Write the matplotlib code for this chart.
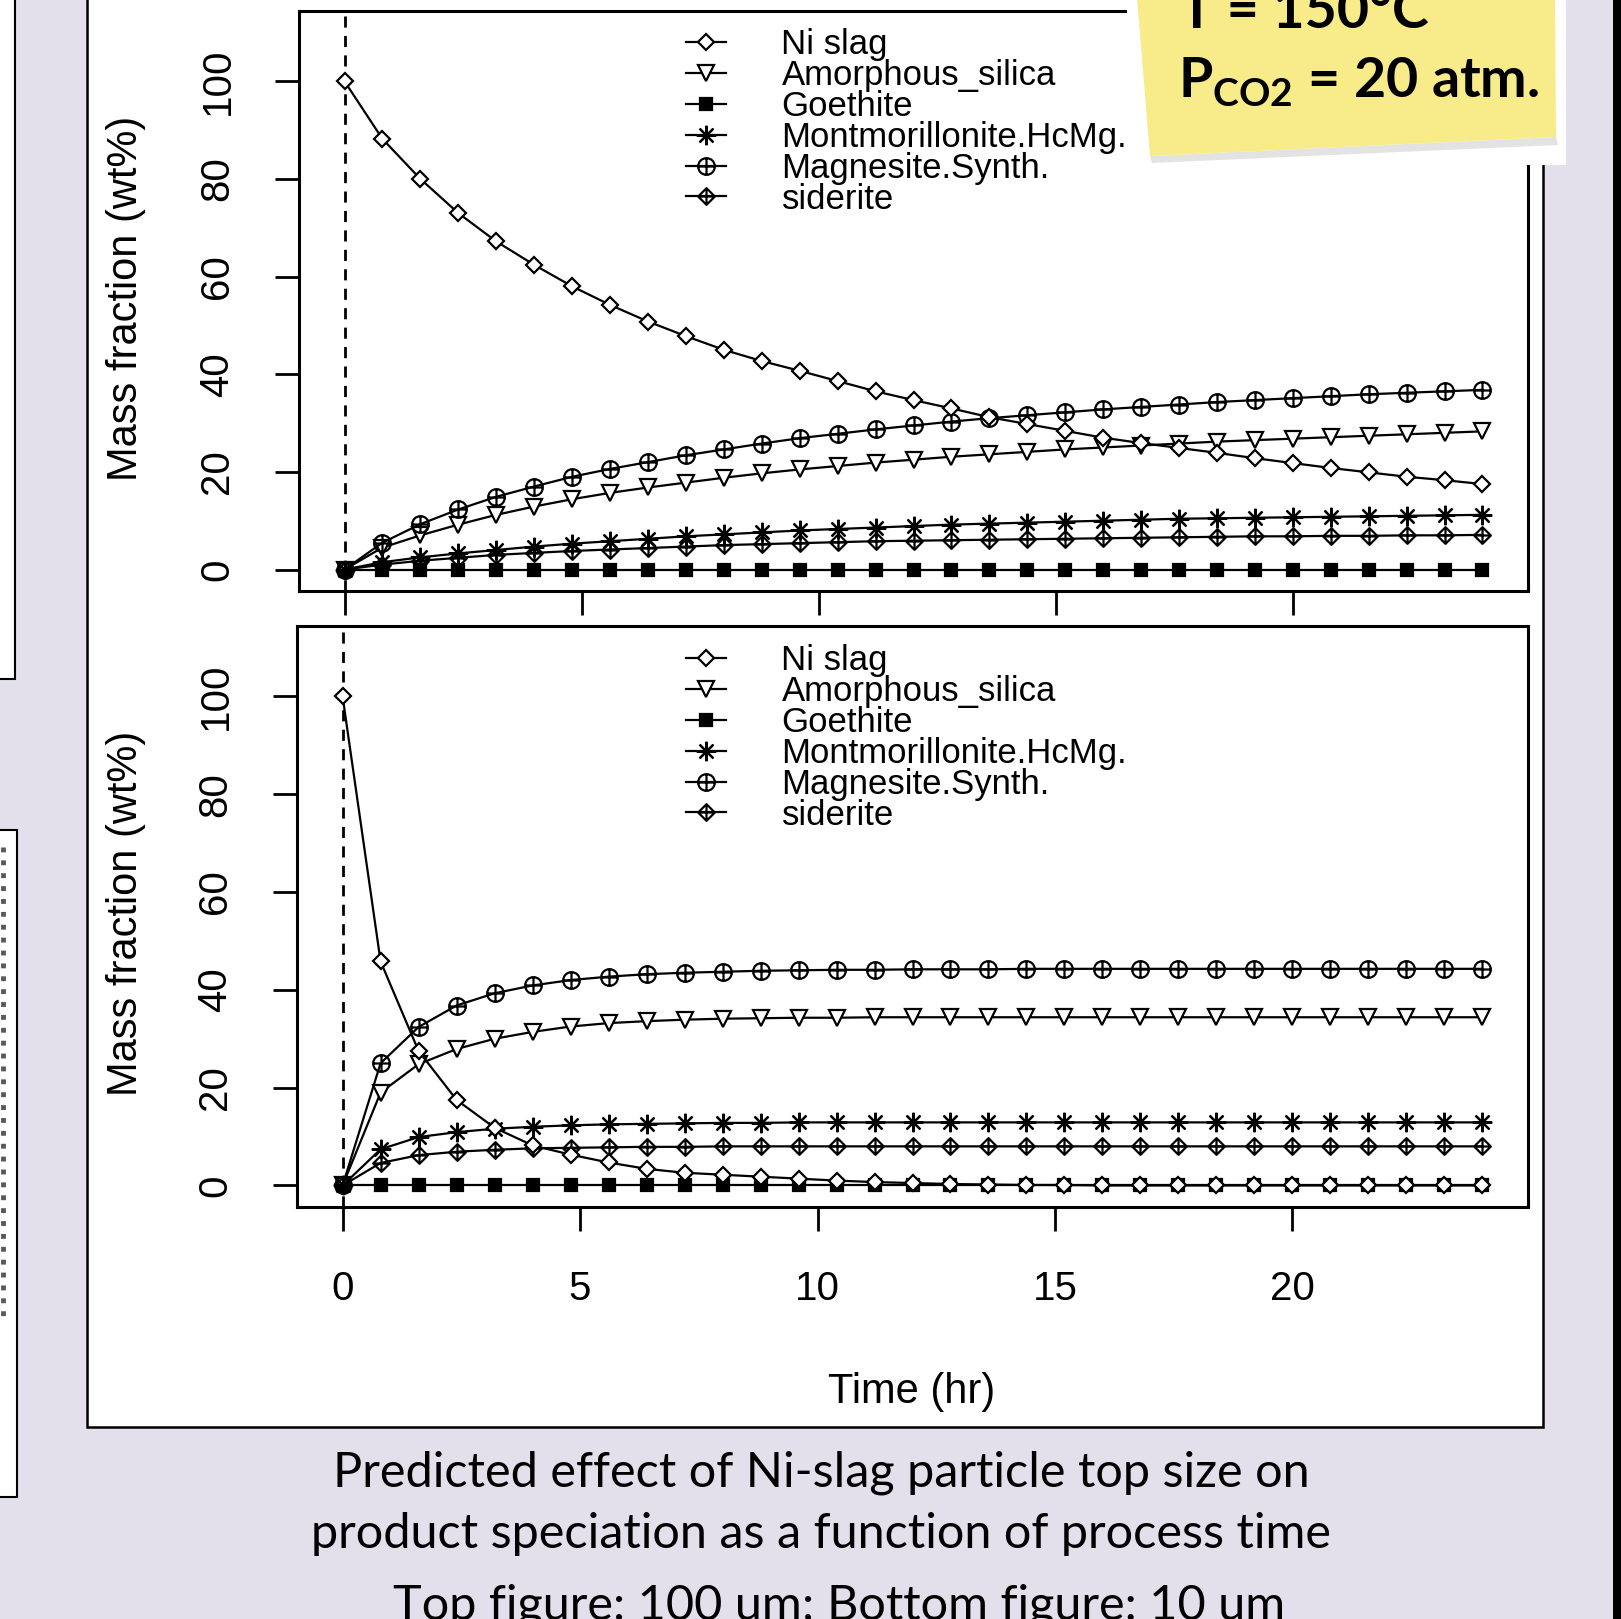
import matplotlib
matplotlib.use("Agg")
import matplotlib.pyplot as plt
from matplotlib.path import Path
from matplotlib.patches import Rectangle, Polygon
from matplotlib.lines import Line2D
from matplotlib import font_manager

# time axis (hr)
time_hr = [0.0, 0.8, 1.6, 2.4, 3.2, 4.0, 4.8, 5.6, 6.4, 7.2, 8.0, 8.8, 9.6, 10.4, 11.2, 12.0,
           12.8, 13.6, 14.4, 15.2, 16.0, 16.8, 17.6, 18.4, 19.2, 20.0, 20.8, 21.6, 22.4, 23.2, 24.0]

# top figure: 100 um
ni_top = [100, 88.2, 80.0, 73.0, 67.2, 62.4, 58.0, 54.2, 50.8, 47.8, 45.0, 42.7, 40.7, 38.6, 36.5, 34.7,
          33.0, 31.2, 29.8, 28.4, 27.0, 25.9, 24.9, 23.9, 22.8, 21.8, 20.8, 19.9, 19.0, 18.3, 17.5]
sil_top = [0, 4.5, 7.0, 9.2, 11.2, 12.9, 14.4, 15.7, 16.8, 17.8, 18.8, 19.7, 20.5, 21.2, 21.9, 22.5,
           23.1, 23.6, 24.1, 24.6, 25.0, 25.4, 25.8, 26.2, 26.5, 26.8, 27.1, 27.4, 27.7, 28.0, 28.3]
goe_top = [0, 0, 0, 0, 0, 0, 0, 0, 0, 0, 0, 0, 0, 0, 0, 0,
           0, 0, 0, 0, 0, 0, 0, 0, 0, 0, 0, 0, 0, 0, 0]
mont_top = [0, 1.5, 2.5, 3.3, 4.0, 4.7, 5.3, 5.8, 6.3, 6.8, 7.2, 7.6, 8.0, 8.3, 8.6, 8.9,
            9.2, 9.4, 9.6, 9.8, 10.0, 10.2, 10.4, 10.5, 10.6, 10.7, 10.8, 10.9, 11.0, 11.1, 11.2]
mag_top = [0, 5.5, 9.3, 12.3, 14.9, 17.0, 19.0, 20.6, 22.0, 23.4, 24.6, 25.8, 26.9, 27.8, 28.7, 29.5,
           30.3, 31.0, 31.6, 32.2, 32.8, 33.3, 33.8, 34.3, 34.7, 35.1, 35.5, 35.9, 36.2, 36.5, 36.8]
sid_top = [0, 1.0, 1.8, 2.4, 3.0, 3.4, 3.8, 4.1, 4.4, 4.7, 5.0, 5.2, 5.4, 5.6, 5.8, 5.9,
           6.0, 6.1, 6.2, 6.3, 6.4, 6.5, 6.6, 6.7, 6.8, 6.8, 6.9, 6.9, 7.0, 7.0, 7.1]

# bottom figure: 10 um
ni_bot = [100, 45.8, 27.5, 17.5, 11.8, 8.2, 6.3, 4.7, 3.4, 2.6, 2.2, 1.8, 1.4, 1.0, 0.7, 0.5,
          0.3, 0.2, 0.1, 0.1, 0, 0, 0, 0, 0, 0, 0, 0, 0, 0, 0]
sil_bot = [0, 19.0, 24.8, 27.9, 30.0, 31.4, 32.5, 33.2, 33.6, 33.9, 34.1, 34.2, 34.3, 34.3, 34.4, 34.4,
           34.4, 34.4, 34.4, 34.4, 34.4, 34.4, 34.4, 34.4, 34.4, 34.4, 34.4, 34.4, 34.4, 34.4, 34.4]
goe_bot = [0, 0, 0, 0, 0, 0, 0, 0, 0, 0, 0, 0, 0, 0, 0, 0,
           0, 0, 0, 0, 0, 0, 0, 0, 0, 0, 0, 0, 0, 0, 0]
mont_bot = [0, 7.4, 9.9, 10.9, 11.6, 12.0, 12.3, 12.5, 12.6, 12.7, 12.8, 12.8, 12.9, 12.9, 12.9, 12.9,
            12.9, 12.9, 12.9, 12.9, 12.9, 12.9, 12.9, 12.9, 12.9, 12.9, 12.9, 12.9, 12.9, 12.9, 12.9]
mag_bot = [0, 25.0, 32.4, 36.8, 39.3, 40.9, 42.0, 42.7, 43.2, 43.5, 43.7, 43.9, 44.0, 44.1, 44.1, 44.2,
           44.2, 44.2, 44.3, 44.3, 44.3, 44.3, 44.3, 44.3, 44.3, 44.3, 44.3, 44.3, 44.3, 44.3, 44.3]
sid_bot = [0, 4.6, 6.2, 6.9, 7.3, 7.6, 7.7, 7.8, 7.9, 7.9, 8.0, 8.0, 8.0, 8.0, 8.0, 8.0,
           8.0, 8.0, 8.0, 8.0, 8.0, 8.0, 8.0, 8.0, 8.0, 8.0, 8.0, 8.0, 8.0, 8.0, 8.0]

names = ["Ni slag", "Amorphous_silica", "Goethite", "Montmorillonite.HcMg.",
         "Magnesite.Synth.", "siderite"]
x_ticks = [0, 5, 10, 15, 20]
y_ticks = [0, 20, 40, 60, 80, 100]

# fonts
installed = {f.name for f in font_manager.fontManager.ttflist}
chart_font = "Liberation Sans Narrow" if "Liberation Sans Narrow" in installed else "Liberation Sans"
slide_font = "Lato"

# marker shapes like R's pch 9 / 10
plus = Path([(-1, 0), (1, 0), (0, -1), (0, 1)],
            [Path.MOVETO, Path.LINETO, Path.MOVETO, Path.LINETO])
circle_plus = Path.make_compound_path(Path.unit_circle(), plus)
diamond = Path([(0, 1), (1, 0), (0, -1), (-1, 0), (0, 1)],
               [Path.MOVETO, Path.LINETO, Path.LINETO, Path.LINETO, Path.CLOSEPOLY])
diamond_plus = Path.make_compound_path(diamond, plus)

styles = [
    dict(marker="D", ms=8, mfc="white", zorder=4),
    dict(marker="v", ms=11, mfc="white", zorder=3),
    dict(marker="s", ms=8, mfc="black", zorder=2),
    dict(marker=(8, 2, 0), ms=14, mfc="black", zorder=3),
    dict(marker=circle_plus, ms=12, mfc="none", zorder=3),
    dict(marker=diamond_plus, ms=12, mfc="none", zorder=3),
]

W, H = 1621, 1619
fig = plt.figure(figsize=(W / 100, H / 100), dpi=100, facecolor="#e3dfeb")


def fx(px):
    return px / W


def fy(py):
    return 1 - py / H


def add_box(x0, y0, x1, y1, **kw):
    fig.add_artist(Rectangle((fx(x0), fy(y1)), fx(x1) - fx(x0), fy(y0) - fy(y1),
                             transform=fig.transFigure, **kw))


# slide background pieces
add_box(-5, -5, 15, 679, facecolor="white", edgecolor="black", lw=1.5, zorder=-5)
add_box(-5, 830, 17, 1497, facecolor="white", edgecolor="black", lw=1.5, zorder=-5)
fig.add_artist(Line2D([fx(3), fx(3)], [fy(847), fy(1320)], ls=":", color="0.35", lw=3.5,
                      transform=fig.transFigure, zorder=-4))
add_box(87, -5, 1543, 1427, facecolor="white", edgecolor="black", lw=1.8, zorder=-5)
add_box(1613, -5, 1640, 1640, facecolor="black", edgecolor="none", zorder=10)

ax_top = fig.add_axes([fx(299), fy(591), fx(1528) - fx(299), fy(11) - fy(591)])
ax_bot = fig.add_axes([fx(297), fy(1207), fx(1528) - fx(297), fy(626) - fy(1207)])

panels = [
    (ax_top, [ni_top, sil_top, goe_top, mont_top, mag_top, sid_top], 28),
    (ax_bot, [ni_bot, sil_bot, goe_bot, mont_bot, mag_bot, sid_bot], 644),
]

for ax, series, leg_top in panels:
    for name, vals, st in zip(names, series, styles):
        ax.plot(time_hr, vals, color="black", lw=1.6, mec="black", mew=1.6,
                label=name, **st)
    ax.axvline(0, color="black", ls=(0, (4, 3)), lw=2, zorder=1)
    ax.set_xlim(-0.96, 24.96)
    ax.set_ylim(-4.4, 114.4)
    ax.set_xticks(x_ticks)
    ax.set_yticks(y_ticks)
    for sp in ax.spines.values():
        sp.set_linewidth(2.2)
    ax.tick_params(direction="out", length=17, width=2, labelsize=29, pad=28)
    ax.tick_params(axis="y", labelrotation=90)
    for lab in ax.get_yticklabels():
        lab.set_family(chart_font)
        lab.set_va("center")
    for lab in ax.get_xticklabels():
        lab.set_family(chart_font)
    ax.set_ylabel("Mass fraction (wt%)", fontsize=30, family=chart_font)
    ax.yaxis.label.set_va("center")
    pos = ax.get_position()
    ax.yaxis.set_label_coords((fx(126) - pos.x0) / pos.width, 0.505)
    ax.legend(loc="upper left", bbox_to_anchor=(fx(686), fy(leg_top)),
              bbox_transform=fig.transFigure, frameon=False,
              prop=dict(family=chart_font, size=25), handlelength=1.15,
              handletextpad=1.6, labelspacing=-0.06, borderpad=0, borderaxespad=0)

ax_top.tick_params(axis="x", labelbottom=False)
ax_bot.set_xlabel("Time (hr)", fontsize=30, family=chart_font)
ax_bot.xaxis.label.set_va("center")
ax_bot.xaxis.set_label_coords(0.4996, -0.318)

# sticky note
add_box(1127, -5, 1566, 165, facecolor="white", edgecolor="none", zorder=5)
fig.add_artist(Polygon([(fx(1150), fy(156)), (fx(1556), fy(137)), (fx(1558), fy(145)), (fx(1152), fy(163))],
                       closed=True, transform=fig.transFigure, facecolor="#b0b0b0",
                       edgecolor="none", alpha=0.35, zorder=6))
fig.add_artist(Polygon([(fx(1137), fy(-2)), (fx(1555), fy(-2)), (fx(1556), fy(137)), (fx(1150), fy(156))],
                       closed=True, transform=fig.transFigure, facecolor="#f8eb8a",
                       edgecolor="none", zorder=7))
plt.rcParams["mathtext.fontset"] = "custom"
plt.rcParams["mathtext.bf"] = slide_font + ":bold"
plt.rcParams["mathtext.rm"] = slide_font
fig.text(fx(1180), fy(28), "T = 150°C", family=slide_font, weight="bold", fontsize=40,
         ha="left", va="baseline", zorder=8)
fig.text(fx(1178), fy(97), r"P$_{\mathbf{CO2}}$ = 20 atm.", family=slide_font, weight="bold",
         fontsize=40, ha="left", va="baseline", zorder=8)

# caption
fig.text(fx(821), fy(1486), "Predicted effect of Ni-slag particle top size on",
         family=slide_font, fontsize=35, ha="center", va="baseline")
fig.text(fx(821), fy(1548), "product speciation as a function of process time",
         family=slide_font, fontsize=35, ha="center", va="baseline")
fig.text(fx(839), fy(1619), "Top figure: 100 um; Bottom figure: 10 um",
         family=slide_font, fontsize=35, ha="center", va="baseline")

fig.savefig("out.png", dpi=100, facecolor=fig.get_facecolor())
